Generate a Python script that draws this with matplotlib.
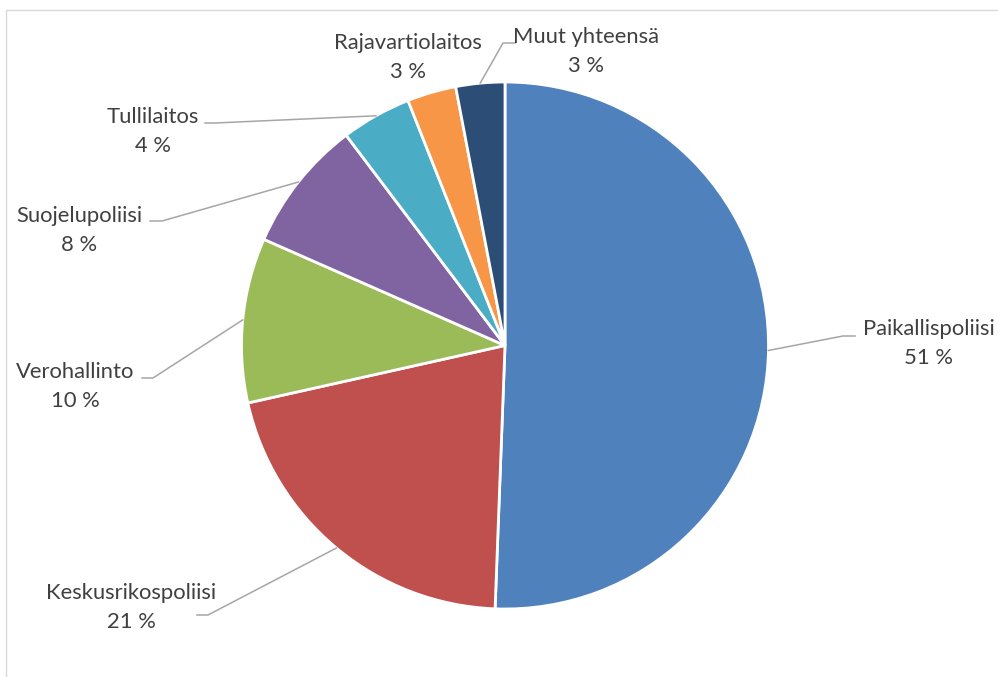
import matplotlib.pyplot as plt
import numpy as np

W, H = 998, 677

categories = ["Paikallispoliisi", "Keskusrikospoliisi", "Verohallinto",
              "Suojelupoliisi", "Tullilaitos", "Rajavartiolaitos", "Muut yhteensä"]
shares = [50.6, 20.9, 10.1, 8.1, 4.3, 3.0, 3.0]
colors = ["#4F81BD", "#C0504D", "#9BBB59", "#8064A2", "#4BACC6", "#F79646", "#2C4D75"]

# label layout in pixel coords (x centre, y of name line)
label_pos = [(929, 329), (131, 593), (75, 372), (79, 216), (153, 117), (408, 43), (586, 37)]
# leader elbows (elbow point, end point) or None
leaders = [((843, 336), (855, 336)),
           ((208, 615), (197, 615)),
           ((153, 378), (142, 378)),
           ((162, 221), (150, 221)),
           ((215, 123), (205, 123)),
           None,
           ((503, 43), (515, 43))]

cx, cy, r = 505, 345.5, 263.5

plt.rcParams['font.family'] = ['Lato', 'DejaVu Sans']

fig = plt.figure(figsize=(W / 100, H / 100), dpi=100)
ax = fig.add_axes([0, 0, 1, 1])

def fy(y):
    return H - y

wedges, _ = ax.pie(shares, colors=colors, startangle=90, counterclock=False,
                   center=(cx, fy(cy)), radius=r, frame=True,
                   wedgeprops=dict(edgecolor='white', linewidth=2))
ax.set_xlim(0, W)
ax.set_ylim(0, H)
ax.set_aspect('equal')
ax.axis('off')

txt_color = "#404040"
for i, name in enumerate(categories):
    x, y = label_pos[i]
    ax.text(x, fy(y), name, ha='center', va='center', fontsize=15.8, color=txt_color)
    ax.text(x, fy(y + 29), f"{round(shares[i])} %", ha='center', va='center',
            fontsize=15.8, color=txt_color)
    if leaders[i] is not None:
        w = wedges[i]
        mid = np.deg2rad((w.theta1 + w.theta2) / 2)
        sx = cx + r * np.cos(mid)
        sy = fy(cy) + r * np.sin(mid)
        (ex, ey), (tx, ty) = leaders[i]
        ax.plot([sx, ex, tx], [sy, fy(ey), fy(ty)], color="#A6A6A6", lw=1.1,
                solid_joinstyle='miter')

# chart area border (only top and left visible)
ax.plot([6, 6, W + 5], [-5, fy(10), fy(10)], color="#D9D9D9", lw=1.0)

fig.savefig("out.png", dpi=100)
